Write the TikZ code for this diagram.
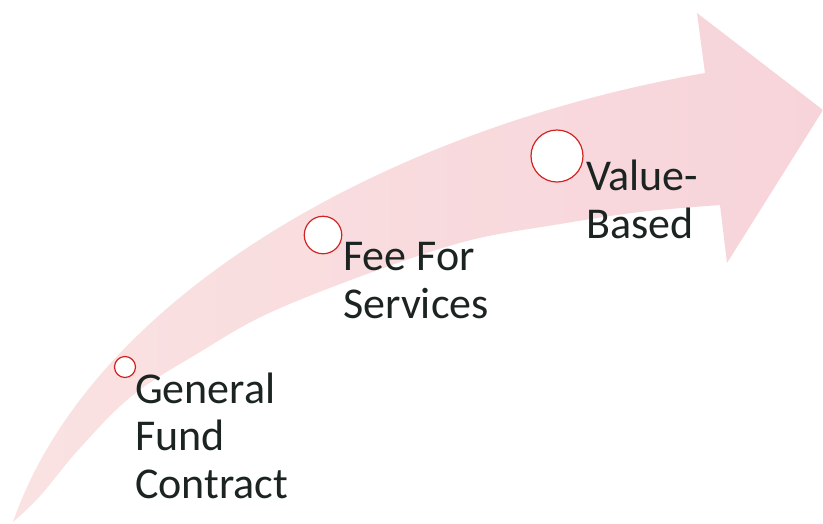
\documentclass[tikz,border=0pt]{standalone}
\usepackage{fontspec}
\setmainfont{Carlito}
\definecolor{pinkL}{RGB}{250,226,226}
\definecolor{pinkR}{RGB}{247,212,218}
\definecolor{ringred}{RGB}{210,35,35}
\definecolor{txt}{RGB}{28,36,33}
\begin{document}
\begin{tikzpicture}[x=1pt,y=-1pt,
  ring/.style={circle,draw=ringred,line width=1.2pt,fill=white,inner sep=0pt},
  lbl/.style={anchor=base west,align=left,inner sep=0pt,text=txt,
    font=\fontsize{44}{47.5}\selectfont}]
\useasboundingbox (0,0) rectangle (823,523);
\fill[white] (0,0) rectangle (823,523);
% curved arrow
\shade[left color=pinkL,right color=pinkR]
  (13,522) .. controls (90,300) and (380,130) .. (705,73)
  -- (697,13) -- (823,110) -- (727,263) -- (720,205)
  -- plot[smooth,tension=0.6] coordinates {(720,205) (640,212) (560,224) (467,241) (367,274) (267,314) (200,352) (133,395) (80,448) (40,496) (13,522)}
  -- cycle;
% markers
\node[ring,minimum size=21pt] (c1) at (125,367) {};
\node[ring,minimum size=37.5pt] (c2) at (323,235) {};
\node[ring,minimum size=52pt] (c3) at (557,156) {};
% labels (anchored at the baseline of the last line)
\node[lbl] (t1) at (135,498) {General\\Fund\\Contract};
\node[lbl] (t2) at (343,318) {Fee For\\Services};
\node[lbl] (t3) at (586,238) {Value-\\Based};
\end{tikzpicture}
\end{document}
